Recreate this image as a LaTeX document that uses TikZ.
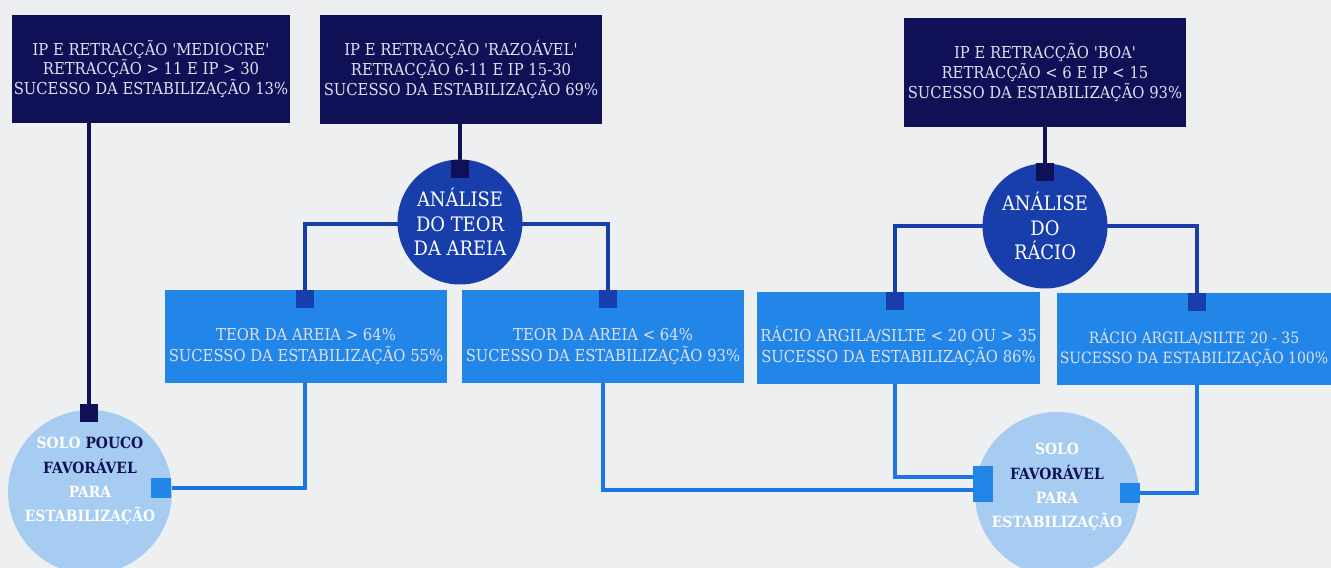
\documentclass[tikz,border=0pt]{standalone}
\usepackage{fontspec}
\newfontfamily\slab{DejaVu Serif Condensed}
\usetikzlibrary{calc}
\definecolor{bgc}{RGB}{238,239,241}
\definecolor{navy}{RGB}{16,16,86}
\definecolor{midblue}{RGB}{24,62,172}
\definecolor{boxblue}{RGB}{34,134,232}
\definecolor{lineblue}{RGB}{28,118,228}
\definecolor{lightc}{RGB}{166,204,241}
\definecolor{boxtext}{RGB}{222,224,240}
\pgfdeclarelayer{back}
\pgfdeclarelayer{lines}
\pgfsetlayers{back,lines,main}
\tikzset{
  navybox/.style={rectangle, fill=navy, text=boxtext, align=center, inner sep=0pt,
    font=\slab\fontsize{16.5}{20}\selectfont},
  bluebox/.style={rectangle, fill=boxblue, text=boxtext, align=center, inner sep=0pt,
    font=\slab\fontsize{16.5}{21}\selectfont},
  analysis/.style={circle, fill=midblue, text=white, align=center, inner sep=0pt,
    minimum size=125bp, font=\slab\fontsize{20}{24.5}\selectfont},
  soilc/.style={circle, fill=lightc, inner sep=0pt, minimum size=164bp},
  soiltext/.style={align=center, inner sep=0pt, text=white,
    font=\slab\bfseries\fontsize{15.5}{24.5}\selectfont},
  sqr/.style={rectangle, inner sep=0pt, minimum width=18bp, minimum height=18bp},
  navyline/.style={draw=navy, line width=4bp},
  midline/.style={draw=midblue, line width=4bp},
  blueline/.style={draw=lineblue, line width=4bp},
}
\begin{document}
\begin{tikzpicture}[x=1bp,y=-1bp]
\clip (0,0) rectangle (1331,568);
\begin{pgfonlayer}{back}
\fill[bgc] (0,0) rectangle (1331,568);
\end{pgfonlayer}
% top boxes
\node[navybox, minimum width=278bp, minimum height=108bp] (b1) at (151,69)
  {IP E RETRACÇÃO 'MEDIOCRE'\\RETRACÇÃO > 11 E IP > 30\\SUCESSO DA ESTABILIZAÇÃO 13\%};
\node[navybox, minimum width=282bp, minimum height=109bp] (b2) at (461,69.5)
  {IP E RETRACÇÃO 'RAZOÁVEL'\\RETRACÇÃO 6-11 E IP 15-30\\SUCESSO DA ESTABILIZAÇÃO 69\%};
\node[navybox, minimum width=282bp, minimum height=109bp] (b3) at (1045,72.5)
  {IP E RETRACÇÃO 'BOA'\\RETRACÇÃO < 6 E IP < 15\\SUCESSO DA ESTABILIZAÇÃO 93\%};
% analysis circles
\node[analysis] (c1) at (460,222) {ANÁLISE\\DO TEOR\\DA AREIA};
\node[analysis] (c2) at (1045,226) {ANÁLISE\\DO\\RÁCIO};
% light blue boxes
\node[bluebox, minimum width=282bp, minimum height=93bp] (b4) at (306,336.5)
  {\\[11bp]TEOR DA AREIA > 64\%\\SUCESSO DA ESTABILIZAÇÃO 55\%};
\node[bluebox, minimum width=282bp, minimum height=93bp] (b5) at (603,336.5)
  {\\[11bp]TEOR DA AREIA < 64\%\\SUCESSO DA ESTABILIZAÇÃO 93\%};
\node[bluebox, minimum width=283bp, minimum height=92bp] (b6) at (898.5,338)
  {\\[11bp]RÁCIO ARGILA/SILTE < 20 OU > 35\\SUCESSO DA ESTABILIZAÇÃO 86\%};
\node[bluebox, minimum width=274bp, minimum height=92bp,
      font=\slab\fontsize{15.6}{21}\selectfont] (b7) at (1194,339)
  {\\[11bp]RÁCIO ARGILA/SILTE 20 - 35\\SUCESSO DA ESTABILIZAÇÃO 100\%};
% soil circles
\node[soilc] (s1) at (90,492) {};
\node[soiltext] (t1) at (90,481)
  {SOLO \textcolor{navy}{POUCO}\\\textcolor{navy}{FAVORÁVEL}\\PARA\\ESTABILIZAÇÃO};
\node[soilc] (s2) at (1057,494) {};
\node[soiltext] (t2) at (1057,487)
  {SOLO\\\textcolor{navy}{FAVORÁVEL}\\PARA\\ESTABILIZAÇÃO};
% squares
\node[sqr, fill=navy] (sqA) at (89,413) {};
\node[sqr, fill=navy] (sqB) at (460,169) {};
\node[sqr, fill=navy] (sqC) at (1045,172) {};
\node[sqr, fill=midblue] (sq4) at (305,299) {};
\node[sqr, fill=midblue] (sq5) at (608,299) {};
\node[sqr, fill=midblue] (sq6) at (895,301) {};
\node[sqr, fill=midblue] (sq7) at (1197,302) {};
\node[sqr, fill=boxblue, minimum width=20bp, minimum height=20bp] (sqL) at (161,488) {};
\node[sqr, fill=boxblue, minimum width=20bp, minimum height=36bp] (sqR1) at (983,484) {};
\node[sqr, fill=boxblue, minimum width=20bp, minimum height=20bp] (sqR2) at (1130,493) {};
% connectors
\begin{pgfonlayer}{lines}
\draw[navyline] (sqA |- b1.south) -- (sqA.center);
\draw[navyline] (sqB |- b2.south) -- (sqB.center);
\draw[navyline] (sqC |- b3.south) -- (sqC.center);
\draw[midline] ($(c1.center)+(0,2)$) -| (sq4.center);
\draw[midline] ($(c1.center)+(0,2)$) -| (sq5.center);
\draw[midline] (c2.center) -| (sq6.center);
\draw[midline] (c2.center) -| (sq7.center);
\draw[blueline] (sq4 |- b4.south) |- (sqL.center);
\draw[blueline] (b5.south) |- ($(sqR1.center)+(0,6)$);
\draw[blueline] (sq6 |- b6.south) |- ($(sqR1.center)+(0,-7)$);
\draw[blueline] (sq7 |- b7.south) |- (sqR2.center);
\end{pgfonlayer}
\end{tikzpicture}
\end{document}
